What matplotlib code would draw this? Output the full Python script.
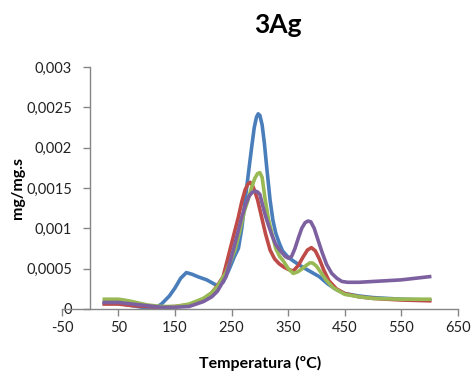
import matplotlib
matplotlib.use("Agg")
import matplotlib.pyplot as plt
from matplotlib.ticker import FuncFormatter

plt.rcParams['font.family'] = ['Lato', 'DejaVu Sans']
plt.rcParams['axes.unicode_minus'] = False

# series (temperature in ºC, rate in mg/mg.s)
t_blue = [25, 50, 75, 100, 115, 126, 140, 150, 160, 170, 180, 190, 206, 224, 235, 245, 255,
          262, 268, 274, 280, 285, 290, 294, 297, 300, 304, 308, 312, 318, 323, 328, 334, 340,
          350, 360, 375, 390, 405, 420, 435, 450, 475, 500, 550, 600]
v_blue = [0.00007, 0.00007, 0.00004, 0.00001, 0.00001, 0.00006, 0.00016, 0.00026, 0.00038,
          0.00045, 0.00043, 0.00040, 0.00036, 0.00029, 0.00033, 0.00048, 0.00065, 0.00075,
          0.00100, 0.00135, 0.00170, 0.00198, 0.00225, 0.00238, 0.00242, 0.00240, 0.00228,
          0.00205, 0.00176, 0.00135, 0.00110, 0.00094, 0.00082, 0.00072, 0.00064, 0.00059,
          0.00052, 0.00046, 0.00040, 0.00031, 0.00024, 0.00019, 0.00016, 0.00014, 0.00012,
          0.00011]

t_red = [25, 50, 75, 100, 125, 150, 175, 200, 215, 225, 235, 247, 255, 262, 268, 274, 279,
         283, 287, 291, 296, 303, 310, 318, 326, 334, 342, 350, 359, 368, 376, 384, 391, 398,
         405, 413, 422, 435, 450, 475, 500, 550, 600]
v_red = [0.00006, 0.00006, 0.00004, 0.00003, 0.00002, 0.00003, 0.00005, 0.00012, 0.00020,
         0.00029, 0.00040, 0.00073, 0.00095, 0.00114, 0.00133, 0.00148, 0.00155, 0.00157,
         0.00153, 0.00146, 0.00135, 0.00114, 0.00093, 0.00073, 0.00062, 0.00056, 0.00052,
         0.00049, 0.00047, 0.00054, 0.00064, 0.00073, 0.00076, 0.00072, 0.00062, 0.00048,
         0.00035, 0.00025, 0.00019, 0.00015, 0.00013, 0.00011, 0.00010]

t_green = [25, 50, 60, 75, 100, 125, 150, 175, 200, 215, 225, 240, 256, 265, 272, 279, 285,
           291, 296, 300, 304, 309, 315, 321, 328, 335, 341, 350, 359, 367, 375, 382, 388,
           393, 400, 408, 418, 430, 450, 475, 500, 550, 600]
v_green = [0.00012, 0.00012, 0.00011, 0.00009, 0.00005, 0.00003, 0.00003, 0.00006, 0.00013,
           0.00020, 0.00028, 0.00045, 0.00073, 0.00098, 0.00120, 0.00135, 0.00150, 0.00162,
           0.00168, 0.00169, 0.00163, 0.00137, 0.00112, 0.00094, 0.00075, 0.00065, 0.00060,
           0.00050, 0.00044, 0.00046, 0.00050, 0.00054, 0.00057, 0.00057, 0.00053, 0.00045,
           0.00035, 0.00026, 0.00018, 0.00015, 0.00013, 0.00012, 0.00012]

t_purple = [25, 50, 75, 100, 125, 150, 175, 200, 215, 225, 240, 253, 260, 268, 275, 281, 287,
            292, 296, 300, 305, 310, 316, 322, 328, 335, 340, 345, 350, 356, 362, 368, 374,
            380, 385, 390, 396, 402, 410, 418, 427, 436, 445, 455, 475, 500, 550, 600]
v_purple = [0.00008, 0.00008, 0.00006, 0.00004, 0.00002, 0.00002, 0.00003, 0.00009, 0.00015,
            0.00022, 0.00040, 0.00073, 0.00092, 0.00114, 0.00130, 0.00140, 0.00145, 0.00146,
            0.00145, 0.00142, 0.00128, 0.00115, 0.00102, 0.00090, 0.00080, 0.00073, 0.00069,
            0.00065, 0.00063, 0.00065, 0.00075, 0.00088, 0.00100, 0.00107, 0.00109, 0.00108,
            0.00100, 0.00087, 0.00070, 0.00055, 0.00044, 0.00038, 0.00034, 0.00033, 0.00033,
            0.00034, 0.00036, 0.00040]

x_ticks = [-50, 50, 150, 250, 350, 450, 550, 650]
y_ticks = [0, 0.0005, 0.001, 0.0015, 0.002, 0.0025, 0.003]

fig = plt.figure(figsize=(4.76, 3.79), dpi=100)
ax = fig.add_axes([0.130, 0.185, 0.832, 0.638])

lw = 2.6
ax.plot(t_blue, v_blue, color='#4A7EBB', lw=lw, solid_joinstyle='round')
ax.plot(t_red, v_red, color='#BE4B48', lw=lw, solid_joinstyle='round')
ax.plot(t_green, v_green, color='#98B954', lw=lw, solid_joinstyle='round')
ax.plot(t_purple, v_purple, color='#7D60A0', lw=lw, solid_joinstyle='round')

ax.set_xlim(-50, 650)
ax.set_ylim(0, 0.003)
ax.set_xticks(x_ticks)
ax.set_yticks(y_ticks)
ax.yaxis.set_major_formatter(FuncFormatter(lambda v, p: ('%g' % v).replace('.', ',')))

for s in ['top', 'right']:
    ax.spines[s].set_visible(False)
ax.spines['left'].set_position(('data', 0))
for s in ['left', 'bottom']:
    ax.spines[s].set_color('#868686')
    ax.spines[s].set_linewidth(1)
ax.tick_params(colors='#868686', length=5, width=1, labelsize=10.5, labelcolor='#222222')
ax.tick_params(axis='y', pad=8)

fig.text(0.584, 1 - 33 / 379, '3Ag', ha='center', va='baseline', fontsize=19, fontweight='bold')
fig.text(0.547, 0.04, 'Temperatura (ºC)', ha='center', va='center', fontsize=11.5, fontweight='bold')
fig.text(0.038, 0.505, 'mg/mg.s', ha='center', va='center', rotation=90, fontsize=11.5, fontweight='bold')

fig.savefig('out.png', dpi=100)
